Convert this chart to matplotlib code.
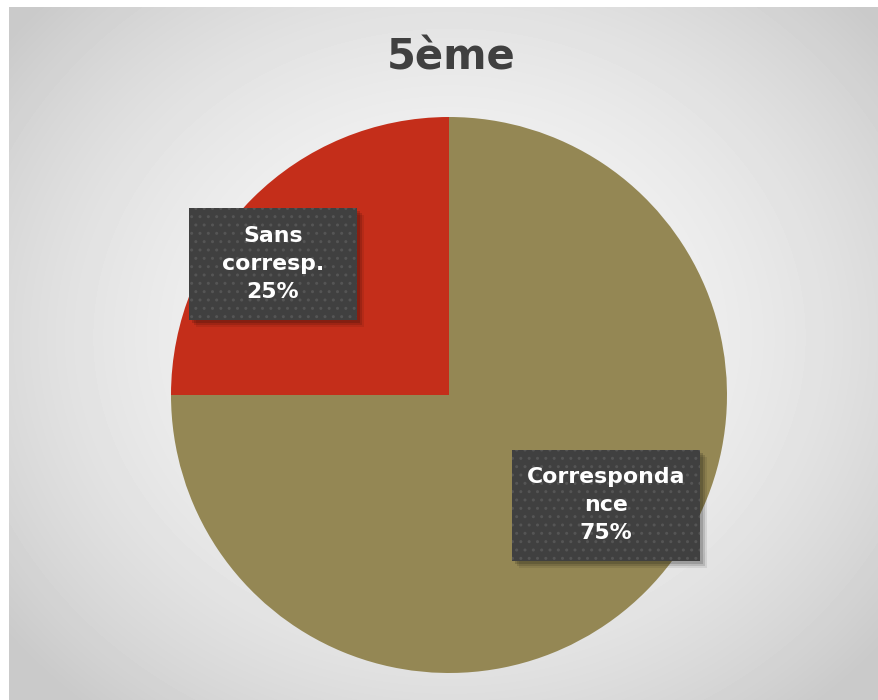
import matplotlib.pyplot as plt
from matplotlib.patches import Rectangle
import numpy as np

labels = ['Correspondance', 'Sans corresp.']
box_text = ['Corresponda\nnce\n75%', 'Sans\ncorresp.\n25%']
values = [75, 25]
colors = ['#948754', '#C42E1A']
label_pos = [(0.565, -0.396), (-0.633, 0.471)]
box_size = [(0.676, 0.399), (0.601, 0.403)]
title = '5ème'

fig = plt.figure(figsize=(8.79, 7.00), dpi=100)
fig.patch.set_facecolor('white')

# radial gradient background
bg = fig.add_axes([9 / 879, 0, 870 / 879, 693 / 700])
yy, xx = np.mgrid[0:693, 0:870]
r2 = ((xx - 440) / 600) ** 2 + ((yy - 330) / 520) ** 2
shade = np.clip(0.965 - 0.2 * r2, 0.79, 0.97)
bg.imshow(shade, cmap='gray', vmin=0, vmax=1, aspect='auto', interpolation='bilinear')
bg.axis('off')

# pie
cx, cy, rad = 449, 395, 278
ax = fig.add_axes([(cx - rad) / 879, 1 - (cy + rad) / 700, 2 * rad / 879, 2 * rad / 700])
ax.pie(values, colors=colors, startangle=90, counterclock=False, radius=1,
       wedgeprops=dict(linewidth=0))
ax.set_xlim(-1, 1)
ax.set_ylim(-1, 1)
ax.set_aspect('auto')
ax.axis('off')

# data labels in dark boxes with soft drop shadow
for txt, (x, y), (w, h) in zip(box_text, label_pos, box_size):
    for k, a in [(3, 0.15), (5, 0.12), (7, 0.08)]:
        off = k / 278
        ax.add_patch(Rectangle((x - w / 2 + off, y - h / 2 - off), w, h,
                               facecolor='black', alpha=a, linewidth=0))
    ax.add_patch(Rectangle((x - w / 2, y - h / 2), w, h, facecolor='#404040',
                           edgecolor='#555555', hatch='..', linewidth=0))
    ax.text(x, y, txt, ha='center', va='center', fontsize=15.8, fontweight='bold',
            color='white', linespacing=1.52)

fig.text(451 / 879, 1 - 57 / 700, title, ha='center', va='center',
         fontsize=30, fontweight='bold', color='#404040')

fig.savefig('out.png', dpi=100)
